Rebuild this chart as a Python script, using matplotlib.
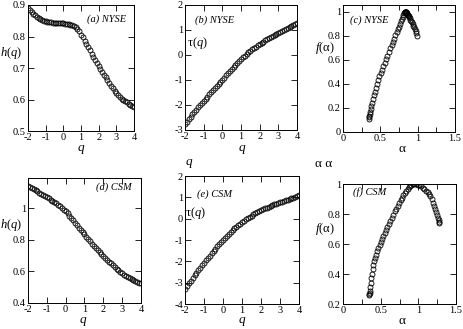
import numpy as np
import matplotlib
matplotlib.use('Agg')
import matplotlib.pyplot as plt
from matplotlib.ticker import MultipleLocator

plt.rcParams['font.family'] = 'Liberation Serif'
plt.rcParams['mathtext.fontset'] = 'custom'
plt.rcParams['mathtext.rm'] = 'Liberation Serif'
plt.rcParams['mathtext.it'] = 'Liberation Serif:italic'
plt.rcParams['axes.unicode_minus'] = False

# q grid, -2 .. 4 step 0.1
q = np.round(np.arange(-20, 41) / 10, 1)

h_nyse = [0.890, 0.884, 0.878, 0.872, 0.867, 0.862, 0.858, 0.855, 0.852, 0.850,
          0.848, 0.847, 0.846, 0.845, 0.844, 0.843, 0.843, 0.843, 0.842, 0.842,
          0.842, 0.841, 0.841, 0.840, 0.838, 0.836, 0.833, 0.829, 0.824, 0.816,
          0.806, 0.797, 0.787, 0.777, 0.767, 0.756, 0.746, 0.735, 0.725, 0.715,
          0.706, 0.697, 0.688, 0.679, 0.670, 0.661, 0.652, 0.644, 0.636, 0.628,
          0.621, 0.614, 0.608, 0.603, 0.599, 0.595, 0.591, 0.587, 0.583, 0.579,
          0.575]

tau_nyse = [-2.78, -2.68, -2.58, -2.48, -2.39, -2.29, -2.20, -2.11, -2.02, -1.93,
            -1.85, -1.76, -1.68, -1.59, -1.51, -1.42, -1.34, -1.25, -1.17, -1.08,
            -1.00, -0.92, -0.83, -0.75, -0.66, -0.58, -0.50, -0.42, -0.34, -0.26,
            -0.18, -0.11, -0.04, 0.03, 0.09, 0.15, 0.21, 0.27, 0.32, 0.38,
            0.43, 0.48, 0.52, 0.57, 0.61, 0.65, 0.70, 0.74, 0.78, 0.82,
            0.86, 0.90, 0.94, 0.98, 1.03, 1.07, 1.11, 1.15, 1.19, 1.23,
            1.27]

alpha_nyse = [0.995, 0.984, 0.972, 0.962, 0.951, 0.941, 0.931, 0.921, 0.912, 0.903,
              0.895, 0.887, 0.879, 0.872, 0.866, 0.859, 0.854, 0.849, 0.845, 0.842,
              0.840, 0.839, 0.836, 0.832, 0.826, 0.819, 0.810, 0.800, 0.789, 0.777,
              0.763, 0.749, 0.734, 0.718, 0.702, 0.685, 0.668, 0.650, 0.632, 0.613,
              0.595, 0.577, 0.558, 0.540, 0.522, 0.505, 0.488, 0.472, 0.456, 0.441,
              0.427, 0.413, 0.401, 0.390, 0.380, 0.371, 0.364, 0.358, 0.354, 0.351,
              0.350]

f_nyse = [0.800, 0.819, 0.838, 0.854, 0.870, 0.885, 0.899, 0.912, 0.923, 0.934,
          0.944, 0.953, 0.962, 0.969, 0.976, 0.982, 0.987, 0.992, 0.996, 0.999,
          1.000, 1.000, 0.999, 0.998, 0.995, 0.988, 0.975, 0.960, 0.942, 0.921,
          0.900, 0.877, 0.853, 0.828, 0.803, 0.777, 0.752, 0.724, 0.695, 0.664,
          0.634, 0.605, 0.576, 0.547, 0.519, 0.492, 0.462, 0.432, 0.400, 0.368,
          0.335, 0.305, 0.275, 0.245, 0.215, 0.190, 0.170, 0.152, 0.135, 0.122,
          0.110]

h_csm = [1.140, 1.133, 1.126, 1.119, 1.112, 1.105, 1.098, 1.091, 1.084, 1.077,
         1.070, 1.062, 1.054, 1.046, 1.038, 1.029, 1.020, 1.010, 1.000, 0.990,
         0.980, 0.966, 0.952, 0.938, 0.923, 0.907, 0.892, 0.877, 0.862, 0.848,
         0.833, 0.818, 0.804, 0.790, 0.776, 0.763, 0.749, 0.736, 0.723, 0.710,
         0.698, 0.686, 0.674, 0.662, 0.650, 0.639, 0.628, 0.617, 0.607, 0.597,
         0.588, 0.579, 0.571, 0.563, 0.556, 0.549, 0.543, 0.537, 0.532, 0.528,
         0.524]

tau_csm = [-3.28, -3.15, -3.03, -2.90, -2.78, -2.66, -2.54, -2.42, -2.30, -2.18,
           -2.07, -1.96, -1.84, -1.73, -1.62, -1.51, -1.41, -1.30, -1.20, -1.10,
           -1.00, -0.90, -0.81, -0.72, -0.63, -0.55, -0.46, -0.39, -0.31, -0.24,
           -0.17, -0.10, -0.03, 0.03, 0.09, 0.14, 0.20, 0.25, 0.30, 0.35,
           0.40, 0.44, 0.48, 0.52, 0.56, 0.60, 0.63, 0.67, 0.70, 0.73,
           0.76, 0.79, 0.83, 0.86, 0.89, 0.92, 0.95, 0.99, 1.02, 1.06,
           1.10]

alpha_csm = [1.280, 1.276, 1.269, 1.260, 1.250, 1.238, 1.224, 1.210, 1.194, 1.177,
             1.160, 1.141, 1.122, 1.102, 1.081, 1.059, 1.037, 1.013, 0.990, 0.965,
             0.940, 0.925, 0.909, 0.893, 0.876, 0.858, 0.840, 0.822, 0.803, 0.784,
             0.765, 0.745, 0.726, 0.706, 0.687, 0.667, 0.647, 0.628, 0.609, 0.590,
             0.571, 0.553, 0.535, 0.518, 0.501, 0.485, 0.469, 0.454, 0.440, 0.427,
             0.415, 0.403, 0.393, 0.383, 0.375, 0.367, 0.361, 0.356, 0.353, 0.351,
             0.350]

f_csm = [0.740, 0.747, 0.759, 0.774, 0.792, 0.812, 0.834, 0.854, 0.876, 0.900,
         0.918, 0.931, 0.944, 0.955, 0.966, 0.976, 0.984, 0.991, 0.996, 0.999,
         1.000, 0.997, 0.993, 0.986, 0.977, 0.965, 0.953, 0.939, 0.924, 0.907,
         0.891, 0.873, 0.855, 0.836, 0.817, 0.792, 0.772, 0.753, 0.734, 0.715,
         0.696, 0.676, 0.656, 0.635, 0.614, 0.593, 0.571, 0.551, 0.528, 0.507,
         0.484, 0.457, 0.431, 0.403, 0.375, 0.342, 0.315, 0.290, 0.275, 0.265,
         0.260]

W, H = 463, 329
def box(l, t, r, b):
    return [l / W, 1 - b / H, (r - l) / W, (b - t) / H]

fig = plt.figure(figsize=(W / 100, H / 100), dpi=100)

panels = [
    # x, y, rect, xlim, ylim, xmaj, xmin, ymaj, tag
    (q, h_nyse, box(28, 5, 134, 131), (-2, 4), (0.5, 0.9), 1, None, 0.1, '(a) NYSE'),
    (q, tau_nyse, box(185, 4.5, 297, 129.5), (-2, 4), (-3, 2), 1, None, 1, '(b) NYSE'),
    (alpha_nyse, f_nyse, box(343, 4.5, 455, 132), (0, 1.5), (0, 1.06), 0.5, 0.25, 0.2, '(c) NYSE'),
    (q, h_csm, box(28, 178, 141, 303), (-2, 4), (0.4, 1.19), 1, None, 0.2, '(d) CSM'),
    (q, tau_csm, box(185, 176, 299, 304), (-2, 4), (-4, 2), 1, None, 1, '(e) CSM'),
    (alpha_csm, f_csm, box(343, 184, 456, 304), (0, 1.5), (0.2, 1.0), 0.5, 0.25, 0.2, '(f) CSM'),
]
tag_pos = [(0.93, 0.89, 'right'), (0.09, 0.876, 'left'), (0.06, 0.878, 'left'),
           (0.92, 0.928, 'right'), (0.105, 0.86, 'left'), (0.09, 0.93, 'left')]

for (x, y, rect, xl, yl, xmaj, xmin, ymaj, tag), (tx, ty, ha) in zip(panels, tag_pos):
    ax = fig.add_axes(rect)
    ax.plot(x, y, 'o', ms=3.6, mfc='none', mec='black', mew=0.6)
    ax.set_xlim(*xl)
    ax.set_ylim(*yl)
    ax.xaxis.set_major_locator(MultipleLocator(xmaj))
    if xmin:
        ax.xaxis.set_minor_locator(MultipleLocator(xmin))
    ax.yaxis.set_major_locator(MultipleLocator(ymaj))
    ax.tick_params(which='both', direction='in', top=True, right=True,
                   width=0.6, labelsize=7.5, pad=1.5)
    ax.tick_params(which='major', length=4.5)
    ax.tick_params(which='minor', length=3.5)
    ax.yaxis.set_major_formatter(plt.FuncFormatter(lambda v, p: ('%g' % round(v, 2))))
    ax.xaxis.set_major_formatter(plt.FuncFormatter(lambda v, p: ('%g' % round(v, 2))))
    for s in ax.spines.values():
        s.set_linewidth(0.7)
    ax.text(tx, ty, tag, transform=ax.transAxes, ha=ha, va='center',
            fontsize=7.5, style='italic')

def ftext(x, y, s, size=9.5, ha='center'):
    fig.text(x / W, 1 - y / H, s, ha=ha, va='center', fontsize=size)

# axis labels
ftext(0, 53, r'$h(q)$', 9, 'left')
ftext(0, 225, r'$h(q)$', 9, 'left')
ftext(197, 43, r'$\mathrm{\tau}(q)$', 9)
ftext(195, 213, r'$\mathrm{\tau}(q)$', 9)
ftext(325, 48, r'$f(\mathrm{\alpha})$', 9)
ftext(325, 229, r'$f(\mathrm{\alpha})$', 9)
ftext(81, 150, r'$q$')
ftext(242, 150, r'$q$')
ftext(402, 149, 'α')
ftext(83, 321, r'$q$')
ftext(242, 321, r'$q$')
ftext(402, 321, 'α')
# stray labels present in the original
ftext(189, 164, r'$q$')
ftext(324, 164, 'α α')

fig.savefig('out.png', dpi=100)
